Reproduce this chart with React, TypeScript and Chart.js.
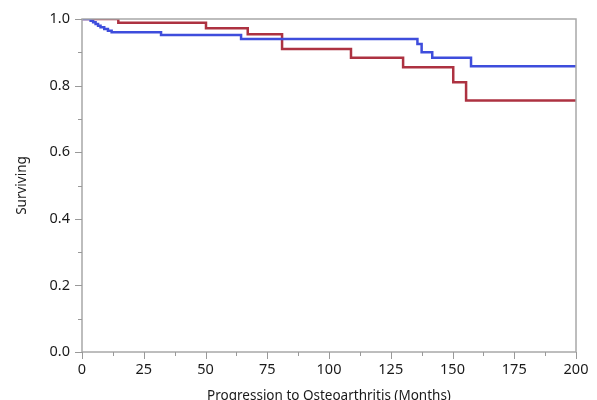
import React, { useEffect, useRef } from "react";
import { Chart, registerables } from "chart.js";

Chart.register(...registerables);

const blueTimes = [0, 3.5, 4.5, 5.5, 6.5, 7.5, 9, 10.5, 12, 32, 64.4, 135.8, 137.5, 141.8, 157.5, 200];
const blueSurv = [1, 0.995, 0.99, 0.985, 0.98, 0.975, 0.97, 0.965, 0.96, 0.952, 0.94, 0.925, 0.9, 0.884, 0.858, 0.858];
const redTimes = [0, 14.7, 50.2, 67.1, 81, 108.9, 130, 150.3, 155.5, 200];
const redSurv = [1, 0.989, 0.972, 0.954, 0.91, 0.884, 0.855, 0.81, 0.755, 0.755];

const xTickLabels = [0, 25, 50, 75, 100, 125, 150, 175, 200];
const yTickLabels = [0, 0.2, 0.4, 0.6, 0.8, 1.0];

const FONT = "'Noto Sans', sans-serif";
const AXIS_COLOR = "#a8a8a8";

const framePlugin = {
  id: "frame",
  afterDraw(chart: any) {
    const { ctx, chartArea } = chart;
    const { left, right, top, bottom } = chartArea;
    ctx.save();
    ctx.strokeStyle = AXIS_COLOR;
    ctx.lineWidth = 1.5;
    ctx.strokeRect(left, top, right - left, bottom - top);
    ctx.lineWidth = 1;
    ctx.strokeStyle = "#999";
    const xs = chart.scales.x;
    xs.ticks.forEach((t: any) => {
      const px = Math.round(xs.getPixelForValue(t.value)) + 0.5;
      const major = xTickLabels.some((v) => Math.abs(v - t.value) < 1e-6);
      ctx.beginPath();
      ctx.moveTo(px, bottom);
      ctx.lineTo(px, bottom + (major ? 7 : 4));
      ctx.stroke();
    });
    const ys = chart.scales.y;
    ys.ticks.forEach((t: any) => {
      const py = Math.round(ys.getPixelForValue(t.value)) + 0.5;
      const major = yTickLabels.some((v) => Math.abs(v - t.value) < 1e-6);
      ctx.beginPath();
      ctx.moveTo(left, py);
      ctx.lineTo(left - (major ? 7 : 4), py);
      ctx.stroke();
    });
    ctx.restore();
  },
};

export default function App() {
  const ref = useRef<HTMLCanvasElement>(null);
  useEffect(() => {
    document.body.style.margin = "0";
    const canvas = ref.current!;
    const chart = new Chart(canvas, {
      type: "line",
      data: {
        datasets: [
          {
            label: "Blue",
            data: blueTimes.map((t, i) => ({ x: t, y: blueSurv[i] })),
            borderColor: "#3e4ddc",
            borderWidth: 2.5,
            stepped: true,
            pointRadius: 0,
            fill: false,
          },
          {
            label: "Red",
            data: redTimes.map((t, i) => ({ x: t, y: redSurv[i] })),
            borderColor: "#ad3241",
            borderWidth: 2.5,
            stepped: true,
            pointRadius: 0,
            fill: false,
          },
        ],
      },
      options: {
        animation: false,
        responsive: false,
        maintainAspectRatio: false,
        layout: { padding: { left: 0, top: 19, right: 21, bottom: 0 } },
        plugins: { legend: { display: false }, tooltip: { enabled: false } },
        scales: {
          x: {
            type: "linear",
            min: 0,
            max: 200,
            border: { display: false },
            grid: { display: true, drawOnChartArea: false, drawTicks: true, tickLength: 7, color: "rgba(0,0,0,0)" },
            ticks: {
              stepSize: 12.5,
              autoSkip: false,
              maxRotation: 0,
              padding: 2,
              color: "#1a1a1a",
              font: { family: FONT, size: 14.5 },
              callback: (v: any) => (xTickLabels.some((l) => Math.abs(l - v) < 1e-6) ? String(v) : ""),
            },
            title: {
              display: true,
              text: "Progression to Osteoarthritis (Months)",
              color: "#1a1a1a",
              font: { family: FONT, size: 13.5 },
              padding: { top: 0, bottom: -4 },
            },
            afterFit: (s: any) => {
              s.height = 48;
            },
          },
          y: {
            type: "linear",
            min: 0,
            max: 1,
            border: { display: false },
            grid: { display: true, drawOnChartArea: false, drawTicks: true, tickLength: 7, color: "rgba(0,0,0,0)" },
            ticks: {
              stepSize: 0.1,
              autoSkip: false,
              padding: 5,
              color: "#1a1a1a",
              font: { family: FONT, size: 14.5 },
              callback: (v: any) => (Math.round(v * 10) % 2 === 0 ? Number(v).toFixed(1) : ""),
            },
            title: {
              display: true,
              text: "Surviving",
              color: "#1a1a1a",
              font: { family: FONT, size: 13.5 },
              padding: { top: 14, bottom: 0 },
            },
            afterFit: (s: any) => {
              s.width = 82;
            },
          },
        },
      },
      plugins: [framePlugin],
    });
    return () => chart.destroy();
  }, []);
  return <canvas ref={ref} width={597} height={400} style={{ display: "block", width: 597, height: 400 }} />;
}
